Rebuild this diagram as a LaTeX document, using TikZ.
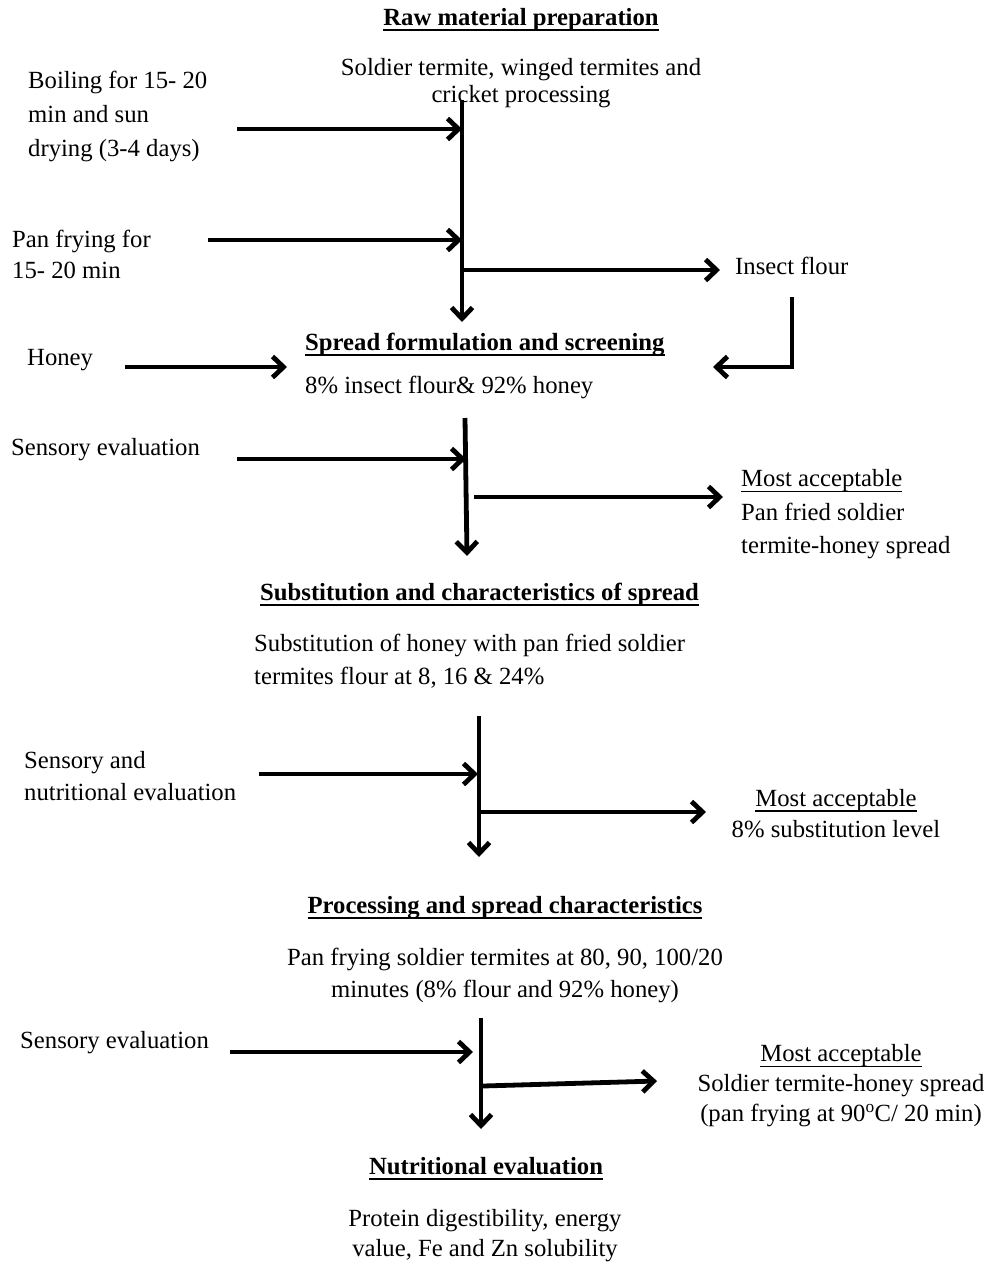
\documentclass[tikz,border=0pt]{standalone}
\usepackage{fontspec}
\setmainfont{Liberation Serif}
\usetikzlibrary{arrows.meta}
\newcommand{\ulbar}[1]{\setbox0\hbox{#1}\rlap{\rule[-5.5pt]{\wd0}{1.8pt}}\box0}

\begin{document}
\begin{tikzpicture}[x=1pt,y=-1pt,
    txt/.style={inner sep=0pt,align=left,font=\fontsize{24.7}{32}\selectfont},
    head/.style={txt,font=\fontsize{24.7}{32}\selectfont\bfseries},
    flow/.style={line width=4.8pt,-{Straight Barb[length=11pt,width=21pt]}},
    bar/.style={line width=4.8pt}]
\useasboundingbox (0,0) rectangle (987,1264);
            % Headings
\node[head,anchor=base]      (raw)    at (521,25)   {\ulbar{Raw material preparation}};
\node[head,anchor=base west] (spread) at (305,350)  {\ulbar{Spread formulation and screening}};
\node[head,anchor=base west] (subst)  at (260,600)  {\ulbar{Substitution and characteristics of spread}};
\node[head,anchor=base]      (proc)   at (505,913)  {\ulbar{Processing and spread characteristics}};
\node[head,anchor=base]      (nutr)   at (486,1174) {\ulbar{Nutritional evaluation}};
            % Texts
\node[txt,align=center,font=\fontsize{24.7}{27}\selectfont] (insect) at (521,83.5)
      {Soldier termite, winged termites and\\cricket processing};
\node[txt,anchor=west,font=\fontsize{24.7}{34}\selectfont] (boil) at (28,116)
      {Boiling for 15- 20\\min and sun\\drying (3-4 days)};
\node[txt,anchor=west,font=\fontsize{24.7}{31}\selectfont] (panfry) at (12,254.5)
      {Pan frying for\\15- 20 min};
\node[txt,anchor=west] (flour)  at (735,266)  {Insect flour};
\node[txt,anchor=west] (honey)  at (27,360)   {Honey};
\node[txt,anchor=west] (mix)    at (305,387)  {8\% insect flour\& 92\% honey};
\node[txt,anchor=west] (sens1)  at (11,450)   {Sensory evaluation};
\node[txt,anchor=west,font=\fontsize{24.7}{33.5}\selectfont] (acc1) at (741,514.5)
      {\ulbar{Most acceptable}\\Pan fried soldier\\termite-honey spread};
\node[txt,anchor=west,font=\fontsize{24.7}{33}\selectfont] (substtxt) at (254,661.5)
      {Substitution of honey with pan fried soldier\\termites flour at 8, 16 \& 24\%};
\node[txt,anchor=west] (sens2)  at (24,776)   {Sensory and\\nutritional evaluation};
\node[txt,align=center,font=\fontsize{24.7}{31}\selectfont] (acc2) at (836,813.5)
      {\ulbar{Most acceptable}\\8\% substitution level};
\node[txt,align=center] (proctxt) at (505,975)
      {Pan frying soldier termites at 80, 90, 100/20\\minutes (8\% flour and 92\% honey)};
\node[txt,anchor=west] (sens3)  at (20,1043)  {Sensory evaluation};
\node[txt,align=center,font=\fontsize{24.7}{30}\selectfont] (acc3) at (841,1086)
      {\ulbar{Most acceptable}\\Soldier termite-honey spread\\(pan frying at 90\textsuperscript{o}C/ 20 min)};
\node[txt,align=center,font=\fontsize{24.7}{30}\selectfont] (nutrtxt) at (485,1236)
      {Protein digestibility, energy\\value, Fe and Zn solubility};
            % Connector points
\coordinate (v1a) at (462,100);  \coordinate (v1b) at (462,322);
\coordinate (b1a) at (237,129);  \coordinate (b1b) at (462,129);
\coordinate (p1a) at (208,240);  \coordinate (p1b) at (462,240);
\coordinate (f1a) at (462,270);  \coordinate (f1b) at (720,270);
\coordinate (e1a) at (792,297);  \coordinate (e1b) at (792,367);  \coordinate (e1c) at (713,367);
\coordinate (h1a) at (125,367);  \coordinate (h1b) at (287,367);
\coordinate (v2a) at (465,418);  \coordinate (v2b) at (467,556);
\coordinate (s1a) at (237,459);  \coordinate (s1b) at (466,459);
\coordinate (m1a) at (474,497);  \coordinate (m1b) at (723,497);
\coordinate (v3a) at (479,716);  \coordinate (v3b) at (479,857);
\coordinate (s2a) at (259,774);  \coordinate (s2b) at (478,774);
\coordinate (m2a) at (481,812);  \coordinate (m2b) at (706,812);
\coordinate (v4a) at (481,1018); \coordinate (v4b) at (481,1129);
\coordinate (s3a) at (230,1052); \coordinate (s3b) at (473,1052);
\coordinate (m3a) at (483,1086); \coordinate (m3b) at (657,1081);
            % Arrows
\draw[flow] (v1a) -- (v1b);
\draw[flow] (b1a) -- (b1b);
\draw[flow] (p1a) -- (p1b);
\draw[flow] (f1a) -- (f1b);
\draw[flow] (e1a) -- (e1b) -- (e1c);
\draw[flow] (h1a) -- (h1b);
\draw[flow] (v2a) -- (v2b);
\draw[flow] (s1a) -- (s1b);
\draw[flow] (m1a) -- (m1b);
\draw[flow] (v3a) -- (v3b);
\draw[flow] (s2a) -- (s2b);
\draw[flow] (m2a) -- (m2b);
\draw[flow] (v4a) -- (v4b);
\draw[flow] (s3a) -- (s3b);
\draw[flow] (m3a) -- (m3b);
\end{tikzpicture}
\end{document}
